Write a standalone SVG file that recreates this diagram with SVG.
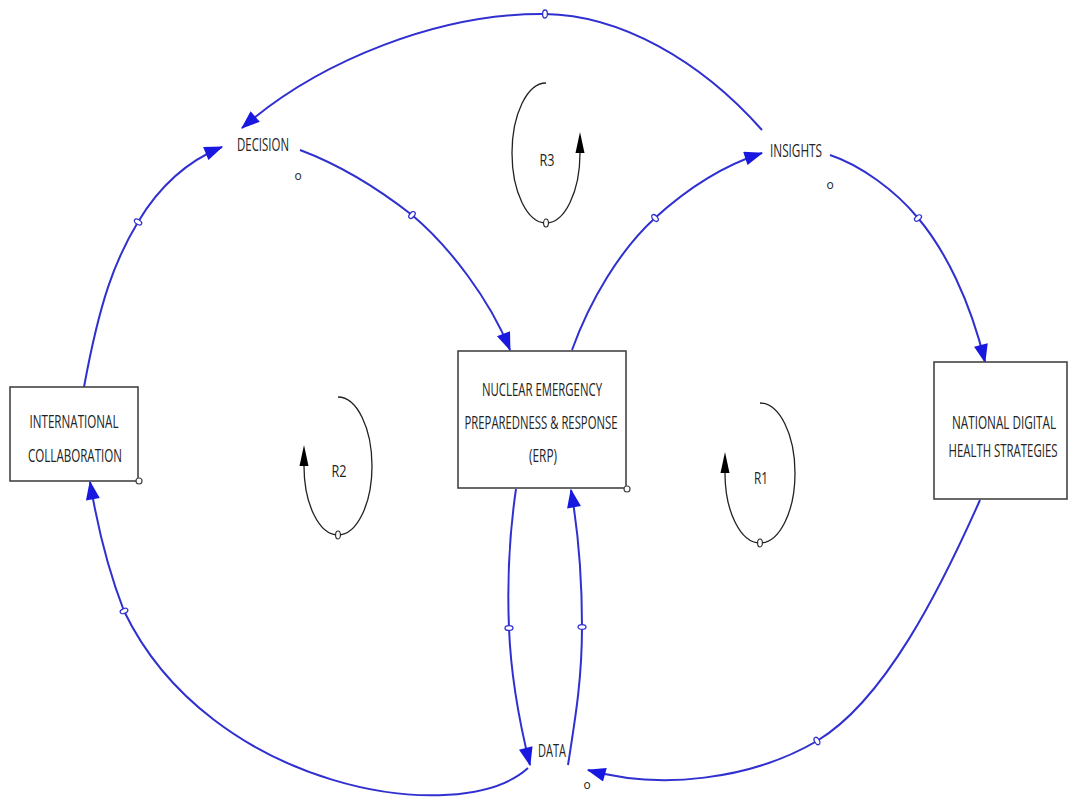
<svg xmlns="http://www.w3.org/2000/svg" width="1068" height="805" viewBox="0 0 1068 805">
<defs>
<style>
.lbl{font-family:"Open Sans","Liberation Sans",sans-serif;font-size:18px;fill:#222;text-anchor:middle}
.rl{font-family:"Open Sans","Liberation Sans",sans-serif;font-size:16px;fill:#222;text-anchor:middle}
.pol{font-family:"Open Sans","Liberation Sans",sans-serif;font-size:12px;fill:#222;text-anchor:middle}
.box{fill:#fff;stroke:#444;stroke-width:1.6}
.link{fill:none;stroke:#3030d0;stroke-width:2;marker-mid:url(#pb);marker-end:url(#ab)}
.loop{fill:none;stroke:#222;stroke-width:1.3;marker-mid:url(#pk);marker-end:url(#ak)}
.corner{fill:#fff;stroke:#444;stroke-width:1.2}
</style>
<marker id="ab" markerUnits="userSpaceOnUse" markerWidth="20" markerHeight="14" refX="15" refY="6" orient="auto" viewBox="0 0 16 12"><path d="M0,0 L16,6 L0,12 Z" fill="#1818e0"/></marker>
<marker id="pb" markerUnits="userSpaceOnUse" markerWidth="10" markerHeight="12" refX="5" refY="6" orient="auto" viewBox="0 0 10 12"><ellipse cx="5" cy="6" rx="2.4" ry="4" fill="#fff" stroke="#3030d0" stroke-width="1.3"/></marker>
<marker id="ak" markerUnits="userSpaceOnUse" markerWidth="22" markerHeight="10" refX="0" refY="4.5" orient="auto" viewBox="0 0 22 9"><path d="M0,0 L21,4.5 L0,9 Z" fill="#000"/></marker>
<marker id="pk" markerUnits="userSpaceOnUse" markerWidth="10" markerHeight="12" refX="5" refY="6" orient="auto" viewBox="0 0 10 12"><ellipse cx="5" cy="6" rx="2.4" ry="4" fill="#fff" stroke="#222" stroke-width="1.1"/></marker>
</defs>
<rect width="1068" height="805" fill="#fff"/>
<g id="connectors">
<path class="link" d="M84,387 C100,300 115,260 138,222 C160,185 190,160 222,147"/>
<path class="link" d="M300,150 C340,165 380,190 412,215 C450,247 490,300 510,350"/>
<path class="link" d="M572,350 C590,300 620,250 655,218 C690,186 725,165 762,153"/>
<path class="link" d="M830,155 C860,165 895,190 918,218 C945,250 970,300 985,362"/>
<path class="link" d="M762,130 C700,60 620,15 545,14 C440,13 320,60 242,128"/>
<path class="link" d="M980,500 C940,590 885,700 817,741 C750,780 660,790 588,770"/>
<path class="link" d="M528,768 C460,830 210,790 124,611 C110,575 98,530 90,482"/>
<path class="link" d="M516,489 C510,530 507,580 509,628 C511,680 520,725 530,765"/>
<path class="link" d="M568,765 C575,720 582,680 582,627 C582,580 578,530 571,490"/>
</g>
<g id="loop-R3">
<path class="loop" d="M546,83 A34,70 0 0 0 546,223 A34,70 0 0 0 580,153"/>
<text class="rl" x="547" y="166" textLength="15" lengthAdjust="spacingAndGlyphs">R3</text>
</g>
<g id="loop-R2">
<path class="loop" d="M338,397 A34,69 0 0 1 338,535 A34,69 0 0 1 304,466"/>
<text class="rl" x="339" y="477" textLength="15" lengthAdjust="spacingAndGlyphs">R2</text>
</g>
<g id="loop-R1">
<path class="loop" d="M760,403 A35,70 0 0 1 760,543 A35,70 0 0 1 725,473"/>
<text class="rl" x="761" y="484" textLength="14" lengthAdjust="spacingAndGlyphs">R1</text>
</g>
<g id="node-international">
<rect class="box" x="10" y="387" width="128" height="94"/>
<circle class="corner" cx="139" cy="481" r="3"/>
<text class="lbl" x="74" y="428" textLength="89" lengthAdjust="spacingAndGlyphs">INTERNATIONAL</text>
<text class="lbl" x="75" y="462" textLength="94" lengthAdjust="spacingAndGlyphs">COLLABORATION</text>
</g>
<g id="node-erp">
<rect class="box" x="458" y="351" width="168" height="137"/>
<circle class="corner" cx="627" cy="489" r="3"/>
<text class="lbl" x="542" y="396" textLength="120" lengthAdjust="spacingAndGlyphs">NUCLEAR EMERGENCY</text>
<text class="lbl" x="541" y="429" textLength="153" lengthAdjust="spacingAndGlyphs">PREPAREDNESS &amp; RESPONSE</text>
<text class="lbl" x="543" y="462" textLength="28" lengthAdjust="spacingAndGlyphs">(ERP)</text>
</g>
<g id="node-national">
<rect class="box" x="934" y="362" width="133" height="137"/>
<text class="lbl" x="1004" y="429" textLength="104" lengthAdjust="spacingAndGlyphs">NATIONAL DIGITAL</text>
<text class="lbl" x="1003" y="457" textLength="109" lengthAdjust="spacingAndGlyphs">HEALTH STRATEGIES</text>
</g>
<g id="node-decision">
<text class="lbl" x="263" y="151" textLength="52" lengthAdjust="spacingAndGlyphs">DECISION</text>
<text class="pol" x="298" y="180">o</text>
</g>
<g id="node-insights">
<text class="lbl" x="796" y="157" textLength="52" lengthAdjust="spacingAndGlyphs">INSIGHTS</text>
<text class="pol" x="830" y="189">o</text>
</g>
<g id="node-data">
<text class="lbl" x="552" y="757" textLength="28" lengthAdjust="spacingAndGlyphs">DATA</text>
<text class="pol" x="587" y="789">o</text>
</g>
</svg>
